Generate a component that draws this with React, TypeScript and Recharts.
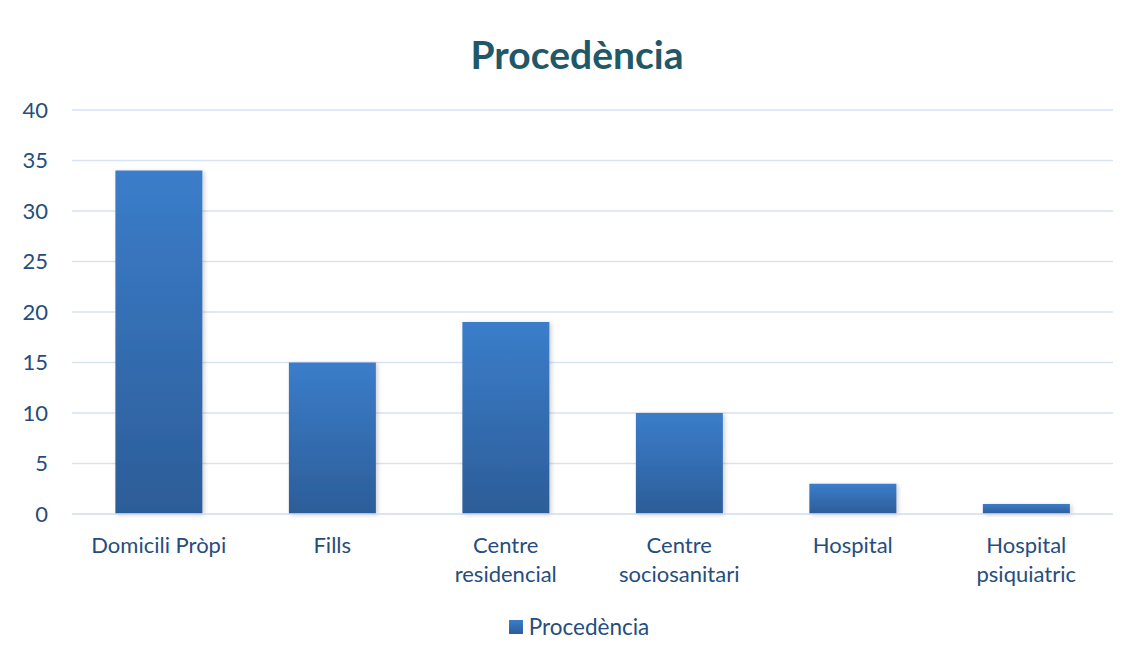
import React from "react";
import { BarChart, Bar, CartesianGrid, XAxis, YAxis, Legend } from "recharts";

// Data
const categories = [
  "Domicili Pròpi",
  "Fills",
  "Centre residencial",
  "Centre sociosanitari",
  "Hospital",
  "Hospital psiquiatric",
];
const values = [34, 15, 19, 10, 3, 1];
const yTicks = [0, 5, 10, 15, 20, 25, 30, 35, 40];
// category labels as Excel wrapped them
const tickLabelLines = [
  ["Domicili Pròpi"],
  ["Fills"],
  ["Centre", "residencial"],
  ["Centre", "sociosanitari"],
  ["Hospital"],
  ["Hospital", "psiquiatric"],
];
const seriesName = "Procedència";

const chartData = categories.map((c, i) => ({ name: c, value: values[i] }));

const font = "Lato, 'Open Sans', sans-serif";
const textColor = "#264d7e";
const gridColor = "#d9e2f3";

const CategoryTick = (props: any) => {
  const { x, y, payload } = props;
  const idx = categories.indexOf(payload.value);
  const lines = tickLabelLines[idx] || [payload.value];
  return (
    <text
      x={x}
      y={y}
      textAnchor="middle"
      fill={textColor}
      style={{ fontFamily: font, fontSize: 22 }}
    >
      {lines.map((l, i) => (
        <tspan key={i} x={x} dy={i === 0 ? "0.71em" : 29}>
          {l}
        </tspan>
      ))}
    </text>
  );
};

const LegendBox = () => (
  <div
    style={{
      display: "flex",
      justifyContent: "center",
      alignItems: "center",
      fontFamily: font,
      fontSize: 22.5,
      color: textColor,
      paddingLeft: 16,
    }}
  >
    <svg width={14} height={14} style={{ marginRight: 6 }}>
      <defs>
        <linearGradient id="legGrad" x1="0" y1="0" x2="0" y2="1">
          <stop offset="0%" stopColor="#3b7dca" />
          <stop offset="100%" stopColor="#2c5d98" />
        </linearGradient>
      </defs>
      <rect width={14} height={14} fill="url(#legGrad)" />
    </svg>
    <span>{seriesName}</span>
  </div>
);

export default function App() {
  return (
    <div
      style={{
        position: "relative",
        width: 1128,
        height: 656,
        marginLeft: -1,
        marginTop: -3,
        border: `1px solid ${gridColor}`,
        background: "#fff",
      }}
    >
      <div
        style={{
          position: "absolute",
          top: 26,
          left: 6,
          width: 1126,
          textAlign: "center",
          fontFamily: font,
          fontWeight: 700,
          fontSize: 39,
          color: "#215868",
          lineHeight: "44px",
        }}
      >
        {seriesName}
      </div>
      <BarChart
        width={1126}
        height={654}
        data={chartData}
        margin={{ top: 104, right: 21, left: 0, bottom: 0 }}
        barCategoryGap="25%"
      >
        <defs>
          <linearGradient id="barGrad" x1="0" y1="0" x2="0" y2="1">
            <stop offset="0%" stopColor="#3b7dca" />
            <stop offset="100%" stopColor="#2c5d98" />
          </linearGradient>
          <filter id="barShadow" x="-10%" y="-10%" width="130%" height="130%">
            <feDropShadow dx="2" dy="1" stdDeviation="2" floodColor="#000" floodOpacity="0.18" />
          </filter>
        </defs>
        <CartesianGrid vertical={false} stroke={gridColor} strokeWidth={1.5} />
        <XAxis
          dataKey="name"
          axisLine={{ stroke: gridColor, strokeWidth: 1.5 }}
          tickLine={false}
          tick={<CategoryTick />}
          interval={0}
          height={146}
          tickMargin={17}
        />
        <YAxis
          domain={[0, 40]}
          ticks={yTicks}
          width={64}
          axisLine={false}
          tickLine={false}
          tickMargin={18}
          tick={{ fill: textColor, fontSize: 22, fontFamily: font }}
        />
        <Legend
          layout="horizontal"
          verticalAlign="middle"
          align="center"
          wrapperStyle={{ top: 607, left: 0, width: 1126 }}
          content={<LegendBox />}
        />
        <Bar
          dataKey="value"
          name={seriesName}
          fill="url(#barGrad)"
          filter="url(#barShadow)"
          isAnimationActive={false}
        />
      </BarChart>
    </div>
  );
}
